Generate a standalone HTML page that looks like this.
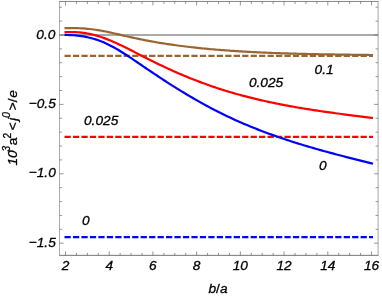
<!DOCTYPE html>
<html><head><meta charset="utf-8"><title>plot</title>
<style>
html,body{margin:0;padding:0;background:#fff;}
body{width:382px;height:300px;overflow:hidden;}
svg{display:block;will-change:transform;}
text{font-family:"Liberation Sans",sans-serif;font-style:italic;fill:#000;stroke:#000;stroke-width:0.3px;}
</style></head><body>
<svg width="382" height="300" viewBox="0 0 382 300">
<rect width="382" height="300" fill="#fff"/>
<line x1="59.5" y1="35.0" x2="378.1" y2="35.0" stroke="#8c8c8c" stroke-width="1.4"/>
<g fill="none" stroke-width="2.2" stroke-linejoin="round" stroke-linecap="square">
<path d="M65.6,237.2 H371.9" stroke="#0000ff" stroke-dasharray="4.05 4.41" stroke-dashoffset="0"/>
<path d="M65.6,136.9 H371.9" stroke="#ff0000" stroke-dasharray="4.05 4.41" stroke-dashoffset="0"/>
<path d="M65.6,55.95 H371.9" stroke="#996633" stroke-dasharray="4.05 4.41" stroke-dashoffset="0"/>
<path d="M65.6,34.96 L67.6,34.98 L69.6,35.03 L71.6,35.12 L73.6,35.25 L75.6,35.41 L77.6,35.61 L79.6,35.85 L81.6,36.13 L83.6,36.46 L85.6,36.83 L87.6,37.25 L89.6,37.71 L91.6,38.23 L93.6,38.79 L95.6,39.40 L97.6,40.05 L99.6,40.76 L101.6,41.53 L103.6,42.35 L105.6,43.23 L107.6,44.16 L109.6,45.14 L111.6,46.17 L113.6,47.25 L115.6,48.37 L117.6,49.53 L119.6,50.72 L121.6,51.95 L123.6,53.20 L125.6,54.48 L127.6,55.78 L129.6,57.10 L131.6,58.44 L133.6,59.79 L135.6,61.15 L137.6,62.52 L139.6,63.88 L141.6,65.25 L143.6,66.62 L145.6,67.98 L147.6,69.33 L149.6,70.68 L151.6,72.03 L153.6,73.37 L155.6,74.70 L157.6,76.03 L159.6,77.35 L161.6,78.66 L163.6,79.97 L165.6,81.27 L167.6,82.56 L169.6,83.84 L171.6,85.12 L173.6,86.38 L175.6,87.64 L177.6,88.88 L179.6,90.12 L181.6,91.35 L183.6,92.56 L185.6,93.77 L187.6,94.97 L189.6,96.15 L191.6,97.32 L193.6,98.49 L195.6,99.64 L197.6,100.78 L199.6,101.91 L201.6,103.02 L203.6,104.13 L205.6,105.22 L207.6,106.30 L209.6,107.37 L211.6,108.43 L213.6,109.47 L215.6,110.51 L217.6,111.52 L219.6,112.53 L221.6,113.53 L223.6,114.51 L225.6,115.47 L227.6,116.43 L229.6,117.37 L231.6,118.30 L233.6,119.22 L235.6,120.13 L237.6,121.03 L239.6,121.91 L241.6,122.79 L243.6,123.65 L245.6,124.50 L247.6,125.34 L249.6,126.17 L251.6,126.99 L253.6,127.80 L255.6,128.60 L257.6,129.39 L259.6,130.17 L261.6,130.94 L263.6,131.70 L265.6,132.45 L267.6,133.19 L269.6,133.92 L271.6,134.65 L273.6,135.36 L275.6,136.07 L277.6,136.77 L279.6,137.46 L281.6,138.14 L283.6,138.82 L285.6,139.48 L287.6,140.15 L289.6,140.80 L291.6,141.44 L293.6,142.08 L295.6,142.72 L297.6,143.34 L299.6,143.96 L301.6,144.57 L303.6,145.18 L305.6,145.78 L307.6,146.38 L309.6,146.97 L311.6,147.55 L313.6,148.13 L315.6,148.71 L317.6,149.28 L319.6,149.84 L321.6,150.40 L323.6,150.96 L325.6,151.51 L327.6,152.06 L329.6,152.60 L331.6,153.14 L333.6,153.68 L335.6,154.21 L337.6,154.74 L339.6,155.27 L341.6,155.79 L343.6,156.31 L345.6,156.83 L347.6,157.35 L349.6,157.86 L351.6,158.37 L353.6,158.88 L355.6,159.39 L357.6,159.90 L359.6,160.40 L361.6,160.91 L363.6,161.41 L365.6,161.92 L367.6,162.42 L369.6,162.92 L371.6,163.42 L371.9,163.50" stroke="#0000ff"/>
<path d="M65.6,32.16 L67.6,32.09 L69.6,32.04 L71.6,32.03 L73.6,32.06 L75.6,32.13 L77.6,32.24 L79.6,32.39 L81.6,32.59 L83.6,32.83 L85.6,33.13 L87.6,33.47 L89.6,33.87 L91.6,34.31 L93.6,34.80 L95.6,35.33 L97.6,35.91 L99.6,36.53 L101.6,37.19 L103.6,37.88 L105.6,38.62 L107.6,39.39 L109.6,40.19 L111.6,41.03 L113.6,41.89 L115.6,42.78 L117.6,43.70 L119.6,44.63 L121.6,45.59 L123.6,46.56 L125.6,47.55 L127.6,48.55 L129.6,49.56 L131.6,50.58 L133.6,51.60 L135.6,52.63 L137.6,53.66 L139.6,54.69 L141.6,55.71 L143.6,56.73 L145.6,57.75 L147.6,58.76 L149.6,59.76 L151.6,60.75 L153.6,61.74 L155.6,62.71 L157.6,63.69 L159.6,64.65 L161.6,65.60 L163.6,66.55 L165.6,67.49 L167.6,68.41 L169.6,69.33 L171.6,70.24 L173.6,71.14 L175.6,72.03 L177.6,72.91 L179.6,73.78 L181.6,74.63 L183.6,75.48 L185.6,76.31 L187.6,77.14 L189.6,77.95 L191.6,78.75 L193.6,79.54 L195.6,80.32 L197.6,81.09 L199.6,81.85 L201.6,82.60 L203.6,83.33 L205.6,84.06 L207.6,84.77 L209.6,85.48 L211.6,86.17 L213.6,86.85 L215.6,87.53 L217.6,88.19 L219.6,88.84 L221.6,89.48 L223.6,90.11 L225.6,90.73 L227.6,91.34 L229.6,91.94 L231.6,92.53 L233.6,93.12 L235.6,93.69 L237.6,94.25 L239.6,94.80 L241.6,95.35 L243.6,95.88 L245.6,96.41 L247.6,96.93 L249.6,97.44 L251.6,97.94 L253.6,98.43 L255.6,98.92 L257.6,99.40 L259.6,99.86 L261.6,100.33 L263.6,100.78 L265.6,101.23 L267.6,101.67 L269.6,102.10 L271.6,102.52 L273.6,102.94 L275.6,103.35 L277.6,103.76 L279.6,104.15 L281.6,104.55 L283.6,104.93 L285.6,105.31 L287.6,105.69 L289.6,106.05 L291.6,106.42 L293.6,106.77 L295.6,107.12 L297.6,107.47 L299.6,107.81 L301.6,108.15 L303.6,108.48 L305.6,108.80 L307.6,109.13 L309.6,109.44 L311.6,109.76 L313.6,110.07 L315.6,110.37 L317.6,110.67 L319.6,110.97 L321.6,111.26 L323.6,111.55 L325.6,111.84 L327.6,112.12 L329.6,112.40 L331.6,112.68 L333.6,112.96 L335.6,113.23 L337.6,113.50 L339.6,113.76 L341.6,114.03 L343.6,114.29 L345.6,114.55 L347.6,114.81 L349.6,115.07 L351.6,115.32 L353.6,115.58 L355.6,115.83 L357.6,116.08 L359.6,116.33 L361.6,116.58 L363.6,116.83 L365.6,117.08 L367.6,117.33 L369.6,117.57 L371.6,117.82 L371.9,117.86" stroke="#ff0000"/>
<path d="M65.6,28.19 L67.6,28.13 L69.6,28.09 L71.6,28.07 L73.6,28.07 L75.6,28.10 L77.6,28.15 L79.6,28.23 L81.6,28.33 L83.6,28.46 L85.6,28.61 L87.6,28.79 L89.6,28.99 L91.6,29.22 L93.6,29.47 L95.6,29.75 L97.6,30.05 L99.6,30.38 L101.6,30.73 L103.6,31.10 L105.6,31.49 L107.6,31.90 L109.6,32.33 L111.6,32.78 L113.6,33.23 L115.6,33.70 L117.6,34.17 L119.6,34.64 L121.6,35.11 L123.6,35.58 L125.6,36.05 L127.6,36.50 L129.6,36.96 L131.6,37.40 L133.6,37.84 L135.6,38.27 L137.6,38.69 L139.6,39.11 L141.6,39.51 L143.6,39.91 L145.6,40.30 L147.6,40.68 L149.6,41.06 L151.6,41.42 L153.6,41.78 L155.6,42.13 L157.6,42.47 L159.6,42.81 L161.6,43.13 L163.6,43.45 L165.6,43.77 L167.6,44.07 L169.6,44.37 L171.6,44.66 L173.6,44.95 L175.6,45.23 L177.6,45.50 L179.6,45.76 L181.6,46.02 L183.6,46.27 L185.6,46.52 L187.6,46.76 L189.6,47.00 L191.6,47.23 L193.6,47.45 L195.6,47.67 L197.6,47.88 L199.6,48.09 L201.6,48.30 L203.6,48.49 L205.6,48.69 L207.6,48.87 L209.6,49.06 L211.6,49.24 L213.6,49.41 L215.6,49.58 L217.6,49.75 L219.6,49.91 L221.6,50.07 L223.6,50.22 L225.6,50.38 L227.6,50.52 L229.6,50.67 L231.6,50.81 L233.6,50.94 L235.6,51.07 L237.6,51.20 L239.6,51.33 L241.6,51.45 L243.6,51.57 L245.6,51.69 L247.6,51.80 L249.6,51.91 L251.6,52.01 L253.6,52.12 L255.6,52.22 L257.6,52.32 L259.6,52.41 L261.6,52.50 L263.6,52.59 L265.6,52.68 L267.6,52.76 L269.6,52.84 L271.6,52.92 L273.6,53.00 L275.6,53.07 L277.6,53.15 L279.6,53.22 L281.6,53.28 L283.6,53.35 L285.6,53.41 L287.6,53.47 L289.6,53.53 L291.6,53.59 L293.6,53.65 L295.6,53.70 L297.6,53.75 L299.6,53.80 L301.6,53.85 L303.6,53.90 L305.6,53.94 L307.6,53.99 L309.6,54.03 L311.6,54.07 L313.6,54.11 L315.6,54.15 L317.6,54.19 L319.6,54.23 L321.6,54.27 L323.6,54.30 L325.6,54.34 L327.6,54.37 L329.6,54.40 L331.6,54.43 L333.6,54.46 L335.6,54.50 L337.6,54.53 L339.6,54.55 L341.6,54.58 L343.6,54.61 L345.6,54.64 L347.6,54.67 L349.6,54.70 L351.6,54.73 L353.6,54.75 L355.6,54.78 L357.6,54.81 L359.6,54.84 L361.6,54.86 L363.6,54.89 L365.6,54.92 L367.6,54.95 L369.6,54.98 L371.6,55.01 L371.9,55.01" stroke="#996633"/>
</g>
<g stroke="#666" stroke-width="0.6" fill="none">
<path d="M59.2,1.45 H378.40000000000003" stroke-width="0.8"/>
<path d="M59.2,255.35 H378.40000000000003" stroke-width="0.9"/>
<path d="M59.5,1.45 V255.35" stroke-width="0.55"/>
<path d="M378.1,1.45 V255.35" stroke-width="0.6"/>
<path d="M65.50,255.35 v-4 M65.50,1.45 v4 M76.43,255.35 v-2.5 M76.43,1.45 v2.5 M87.36,255.35 v-2.5 M87.36,1.45 v2.5 M98.29,255.35 v-2.5 M98.29,1.45 v2.5 M109.21,255.35 v-4 M109.21,1.45 v4 M120.14,255.35 v-2.5 M120.14,1.45 v2.5 M131.07,255.35 v-2.5 M131.07,1.45 v2.5 M142.00,255.35 v-2.5 M142.00,1.45 v2.5 M152.93,255.35 v-4 M152.93,1.45 v4 M163.86,255.35 v-2.5 M163.86,1.45 v2.5 M174.79,255.35 v-2.5 M174.79,1.45 v2.5 M185.71,255.35 v-2.5 M185.71,1.45 v2.5 M196.64,255.35 v-4 M196.64,1.45 v4 M207.57,255.35 v-2.5 M207.57,1.45 v2.5 M218.50,255.35 v-2.5 M218.50,1.45 v2.5 M229.43,255.35 v-2.5 M229.43,1.45 v2.5 M240.36,255.35 v-4 M240.36,1.45 v4 M251.29,255.35 v-2.5 M251.29,1.45 v2.5 M262.21,255.35 v-2.5 M262.21,1.45 v2.5 M273.14,255.35 v-2.5 M273.14,1.45 v2.5 M284.07,255.35 v-4 M284.07,1.45 v4 M295.00,255.35 v-2.5 M295.00,1.45 v2.5 M305.93,255.35 v-2.5 M305.93,1.45 v2.5 M316.86,255.35 v-2.5 M316.86,1.45 v2.5 M327.79,255.35 v-4 M327.79,1.45 v4 M338.71,255.35 v-2.5 M338.71,1.45 v2.5 M349.64,255.35 v-2.5 M349.64,1.45 v2.5 M360.57,255.35 v-2.5 M360.57,1.45 v2.5 M371.50,255.35 v-4 M371.50,1.45 v4 M59.5,243.20 h4 M378.1,243.20 h-4 M59.5,229.32 h2.5 M378.1,229.32 h-2.5 M59.5,215.44 h2.5 M378.1,215.44 h-2.5 M59.5,201.56 h2.5 M378.1,201.56 h-2.5 M59.5,187.68 h2.5 M378.1,187.68 h-2.5 M59.5,173.80 h4 M378.1,173.80 h-4 M59.5,159.92 h2.5 M378.1,159.92 h-2.5 M59.5,146.04 h2.5 M378.1,146.04 h-2.5 M59.5,132.16 h2.5 M378.1,132.16 h-2.5 M59.5,118.28 h2.5 M378.1,118.28 h-2.5 M59.5,104.40 h4 M378.1,104.40 h-4 M59.5,90.52 h2.5 M378.1,90.52 h-2.5 M59.5,76.64 h2.5 M378.1,76.64 h-2.5 M59.5,62.76 h2.5 M378.1,62.76 h-2.5 M59.5,48.88 h2.5 M378.1,48.88 h-2.5 M59.5,35.00 h4 M378.1,35.00 h-4 M59.5,21.12 h2.5 M378.1,21.12 h-2.5 M59.5,7.24 h2.5 M378.1,7.24 h-2.5" stroke="#666" stroke-width="0.68"/>
</g>
<g font-size="13.7">
<text x="65.50" y="270.2" text-anchor="middle">2</text>
<text x="109.21" y="270.2" text-anchor="middle">4</text>
<text x="152.93" y="270.2" text-anchor="middle">6</text>
<text x="196.64" y="270.2" text-anchor="middle">8</text>
<text x="240.36" y="270.2" text-anchor="middle">10</text>
<text x="284.07" y="270.2" text-anchor="middle">12</text>
<text x="327.79" y="270.2" text-anchor="middle">14</text>
<text x="371.50" y="270.2" text-anchor="middle">16</text>
<text x="55.3" y="38.90" text-anchor="end">0.0</text>
<text x="55.8" y="107.80" text-anchor="end">−0.5</text>
<text x="55.8" y="177.20" text-anchor="end">−1.0</text>
<text x="55.8" y="246.60" text-anchor="end">−1.5</text>
<text x="314.6" y="73.5">0.1</text>
<text x="248.9" y="87.4">0.025</text>
<text x="318.9" y="170.2">0</text>
<text x="84" y="124.8">0.025</text>
<text x="82" y="225.2">0</text>
<text x="218" y="293.3" text-anchor="middle">b<tspan style="font-style:normal">/</tspan>a</text>
<text transform="translate(17.2,165.5) rotate(-90)" font-size="13.7">10</text>
<text transform="translate(9.7,151.6) rotate(-90)" font-size="10.2">3</text>
<text transform="translate(17.2,145.3) rotate(-90)" font-size="13.7" style="font-style:normal">a</text>
<text transform="translate(10.8,138.6) rotate(-90)" font-size="10.2" style="font-style:normal">2</text>
<text transform="translate(17.2,130.4) rotate(-90)" font-size="13.7">&lt;</text>
<text transform="translate(17.2,120.8) rotate(-90)" font-size="13.7">j</text>
<text transform="translate(9.5,117.7) rotate(-90)" font-size="10.2">0</text>
<text transform="translate(17.2,110.6) rotate(-90)" font-size="13.7">&gt;</text>
<text transform="translate(17.2,102.3) rotate(-90)" font-size="13.7" style="font-style:normal">/</text>
<text transform="translate(17.2,97.7) rotate(-90)" font-size="13.7">e</text>
</g>
</svg>
</body></html>
